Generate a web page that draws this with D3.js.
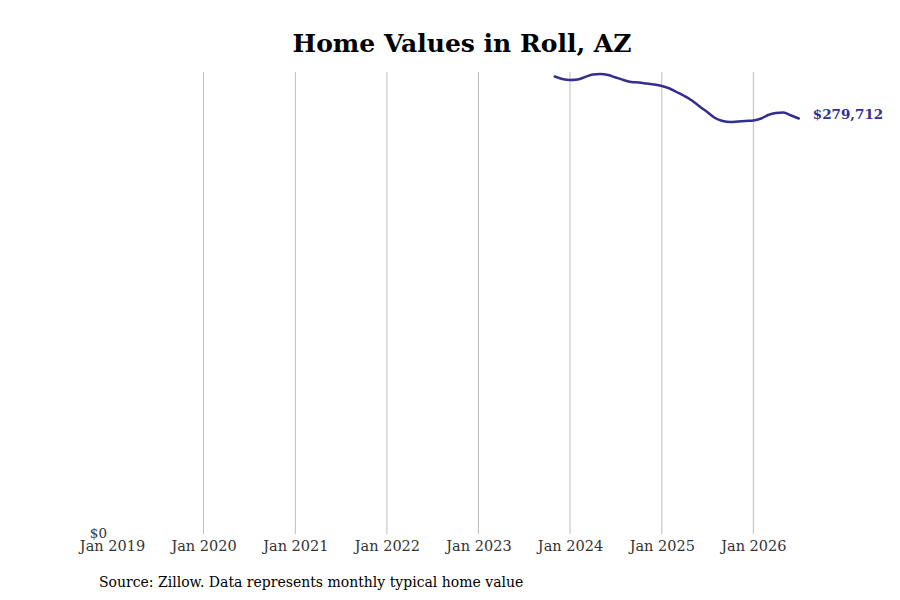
<!DOCTYPE html>
<html><head><meta charset="utf-8">
<script src="https://cdn.jsdelivr.net/npm/d3@7"></script>
<style>body{margin:0;background:#fff}svg{display:block}</style>
</head><body>
<svg id="c" width="900" height="600"></svg>
<script>
const months = ["2023-11","2023-12","2024-01","2024-02","2024-03","2024-04","2024-05","2024-06","2024-07","2024-08","2024-09","2024-10","2024-11","2024-12","2025-01","2025-02","2025-03","2025-04","2025-05","2025-06","2025-07","2025-08","2025-09","2025-10","2025-11","2025-12","2026-01","2026-02","2026-03","2026-04","2026-05","2026-06","2026-07"];
const values = [307900,306250,305580,305910,307590,309270,309610,308940,307260,305580,304240,303900,303230,302560,301550,299870,297520,294830,291810,287780,284090,280060,278040,277370,277710,278040,278380,279720,282070,283420,283750,281740,279712];
const tickLabels = ["Jan 2019","Jan 2020","Jan 2021","Jan 2022","Jan 2023","Jan 2024","Jan 2025","Jan 2026"];
const title = "Home Values in Roll, AZ";
const source = "Source: Zillow. Data represents monthly typical home value";

const parse = d3.timeParse("%Y-%m");
const fmtTick = d3.timeParse("%b %Y");
const data = months.map((m,i)=>({date:parse(m), value:values[i]}));
const svg = d3.select("#c");
const font = "DejaVu Serif";

const x = d3.scaleTime().domain([parse("2019-01"), parse("2026-07")]).range([112, 798.75]);
const y = d3.scaleLinear().domain([0, 310950]).range([535, 72]);

const tickDates = tickLabels.map(t=>fmtTick(t));
// gridlines
svg.append("g").selectAll("line").data(tickDates.slice(1)).join("line")
  .attr("x1",d=>x(d)).attr("x2",d=>x(d)).attr("y1",72).attr("y2",534)
  .attr("stroke","#bdbdbd").attr("stroke-width",1);

// x axis
const xAxis = d3.axisBottom(x).tickValues(tickDates).tickFormat((d,i)=>tickLabels[i]).tickSize(0).tickPadding(5.5);
const gx = svg.append("g").attr("transform","translate(0,535)").call(xAxis);
gx.select(".domain").remove();
gx.selectAll("text").attr("font-family",font).attr("font-size",14.5).attr("fill","#333");

// y axis
const yAxis = d3.axisLeft(y).tickValues([0]).tickFormat(d=>"$"+d3.format(",")(d)).tickSize(0).tickPadding(5);
const gy = svg.append("g").attr("transform","translate(112,0)").call(yAxis);
gy.select(".domain").remove();
gy.selectAll("text").attr("font-family",font).attr("font-size",13.5).attr("fill","#333").attr("dy","0.22em");

// line
const line = d3.line().x(d=>x(d.date)).y(d=>y(d.value)).curve(d3.curveMonotoneX);
svg.append("path").datum(data).attr("d",line).attr("fill","none")
  .attr("stroke","#332f8f").attr("stroke-width",2.5).attr("stroke-linecap","round");

const last = data[data.length-1];
svg.append("text").attr("x",x(last.date)+14).attr("y",y(last.value))
  .attr("font-family",font).attr("font-size",13.5).attr("font-weight","bold").attr("fill","#332f8f")
  .text("$"+d3.format(",")(last.value));

svg.append("text").attr("x",462).attr("y",52).attr("text-anchor","middle")
  .attr("font-family",font).attr("font-size",25).attr("font-weight","bold").attr("fill","#000").text(title);

svg.append("text").attr("x",99).attr("y",587).attr("font-family",font).attr("font-size",14).attr("fill","#000").text(source);
</script>
</body></html>
